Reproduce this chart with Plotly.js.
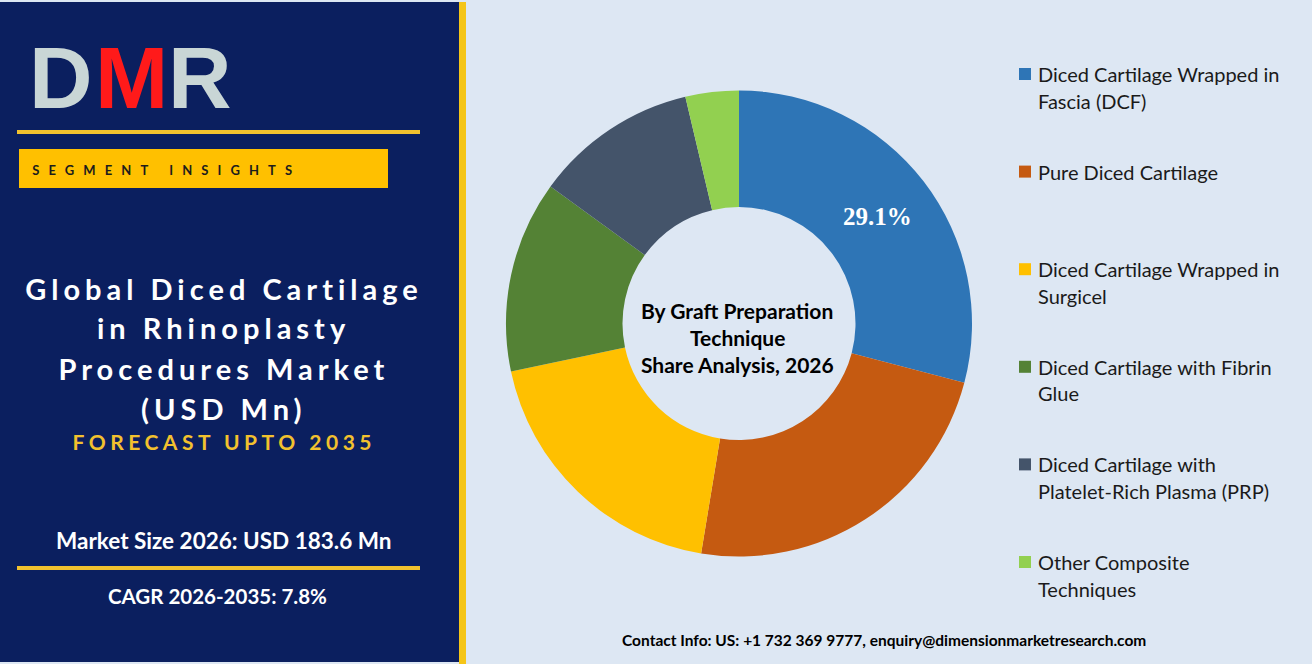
<!DOCTYPE html>
<html>
<head>
<meta charset="utf-8">
<script src="https://cdn.plot.ly/plotly-3.0.1.min.js"></script>
<style>
html,body{margin:0;padding:0;background:#dde7f3;}
#chart{width:1312px;height:664px;}
</style>
</head>
<body>
<div id="chart"></div>
<script>
// ---------- DATA ----------
const categories = [
  "Diced Cartilage Wrapped in<br>Fascia (DCF)",
  "Pure Diced Cartilage",
  "Diced Cartilage Wrapped in<br>Surgicel",
  "Diced Cartilage with Fibrin<br>Glue",
  "Diced Cartilage with<br>Platelet-Rich Plasma (PRP)",
  "Other Composite<br>Techniques"
];
const shares = [29.1, 23.5, 19.1, 13.3, 11.3, 3.7];
const sliceColors = ["#2E75B6", "#C55A11", "#FFC000", "#548235", "#44546A", "#92D050"];
const shownLabel = [true, false, false, false, false, false];

const logoLetters = ["D", "M", "R"];
const titleLines = ["Global Diced Cartilage", "in Rhinoplasty", "Procedures Market", "(USD Mn)"];
const forecastText = "FORECAST UPTO 2035";
const segmentText = "SEGMENT INSIGHTS";
const marketSizeText = "Market Size 2026: USD 183.6 Mn";
const cagrText = "CAGR 2026-2035: 7.8%";
const centerLines = ["By Graft Preparation", "Technique", "Share Analysis, 2026"];
const contactText = "Contact Info: US: +1 732 369 9777, enquiry@dimensionmarketresearch.com";

// ---------- HELPERS ----------
const W = 1312, H = 664;
const px = x => x / W;
const py = y => 1 - y / H;
const NAVY = "#0b1f5f";
const GOLD = "#F2C12E";
const FONT = "Lato, 'Open Sans', sans-serif";

const annotations = [];
const spacing = [];
function ann(o, ls) {
  annotations.push(Object.assign({xref: "paper", yref: "paper", showarrow: false}, o));
  spacing.push(ls || 0);
}

// Logo
const logoX = [61, 131, 200];
const logoColors = ["#c9d6d6", "#ff1a1a", "#c9d6d6"];
logoLetters.forEach((l, i) => {
  ann({x: px(logoX[i]), y: py(77), text: "<b>" + l + "</b>", font: {family: "Liberation Sans, Arial", size: 88, color: logoColors[i]}, xanchor: "center", yanchor: "middle"});
});

// Segment insights (centered on its span; letter spacing applied after render)
ann({x: px(166), y: py(170), text: "<b>" + segmentText + "</b>", font: {family: FONT, size: 13, color: "#1c1c1c"}, xanchor: "center", yanchor: "middle"}, 9.1);

// Title lines
const titleY = [288, 328, 368, 408];
titleLines.forEach((t, i) => {
  ann({x: px(224), y: py(titleY[i]), text: "<b>" + t + "</b>", font: {family: FONT, size: 29, color: "#ffffff"}, xanchor: "center", yanchor: "middle"}, 5);
});
ann({x: px(224), y: py(441), text: "<b>" + forecastText + "</b>", font: {family: FONT, size: 21, color: GOLD}, xanchor: "center", yanchor: "middle"}, 4.5);

ann({x: px(223), y: py(540), text: "<b>" + marketSizeText + "</b>", font: {family: FONT, size: 22.5, color: "#ffffff"}, xanchor: "center", yanchor: "middle"});
ann({x: px(217), y: py(596), text: "<b>" + cagrText + "</b>", font: {family: FONT, size: 20.5, color: "#ffffff"}, xanchor: "center", yanchor: "middle"});

// Center text of donut
const centerY = [310, 337, 364];
centerLines.forEach((t, i) => {
  ann({x: px(737), y: py(centerY[i]), text: "<b>" + t + "</b>", font: {family: FONT, size: 21, color: "#000000"}, xanchor: "center", yanchor: "middle"});
});

// Contact
ann({x: px(884), y: py(640), text: "<b>" + contactText + "</b>", font: {family: FONT, size: 15.5, color: "#000000"}, xanchor: "center", yanchor: "middle"});

// Custom legend built from categories/colors
const shapes = [];
const legendTop = 74, legendStep = 97.6, lineGap = 26.5;
categories.forEach((c, i) => {
  const yc = legendTop + i * legendStep;
  shapes.push({type: "rect", xref: "paper", yref: "paper", x0: px(1019), x1: px(1031), y0: py(yc + 6), y1: py(yc - 6), fillcolor: sliceColors[i], line: {width: 0}});
  c.split("<br>").forEach((line, j) => {
    ann({x: px(1036), y: py(yc + j * lineGap), text: line, font: {family: FONT, size: 20, color: "#1a1a1a"}, xanchor: "left", yanchor: "middle"});
  });
});

// Left panel and decorations
shapes.unshift(
  {type: "rect", xref: "paper", yref: "paper", x0: 0, x1: px(459), y0: py(662), y1: py(2), fillcolor: NAVY, line: {width: 0}, layer: "below"},
  {type: "rect", xref: "paper", yref: "paper", x0: px(459), x1: px(466), y0: 0, y1: py(2), fillcolor: "#F5C518", line: {width: 0}, layer: "below"},
  {type: "rect", xref: "paper", yref: "paper", x0: px(17), x1: px(420), y0: py(134), y1: py(130), fillcolor: GOLD, line: {width: 0}, layer: "below"},
  {type: "rect", xref: "paper", yref: "paper", x0: px(19), x1: px(388), y0: py(188), y1: py(149), fillcolor: "#FFC000", line: {width: 0}, layer: "below"},
  {type: "rect", xref: "paper", yref: "paper", x0: px(17), x1: px(420), y0: py(570), y1: py(566), fillcolor: GOLD, line: {width: 0}, layer: "below"}
);

// ---------- TRACE ----------
const cx = 739, cy = 323.5, R = 233;
const trace = {
  type: "pie",
  labels: categories,
  values: shares,
  hole: 0.5,
  sort: false,
  direction: "clockwise",
  rotation: 0,
  marker: {colors: sliceColors, line: {width: 0}},
  texttemplate: shownLabel.map(s => s ? "<b>%{percent:.1%}</b>" : ""),
  textposition: "inside",
  insidetextorientation: "horizontal",
  insidetextfont: {family: "Liberation Serif, 'Times New Roman', serif", size: 25, color: "#ffffff"},
  hoverinfo: "label+percent",
  showlegend: false,
  domain: {x: [px(cx - R), px(cx + R)], y: [py(cy + R), py(cy - R)]}
};

const layout = {
  width: W, height: H,
  margin: {l: 0, r: 0, t: 0, b: 0},
  paper_bgcolor: "#dde7f3",
  plot_bgcolor: "#dde7f3",
  showlegend: false,
  shapes: shapes,
  annotations: annotations
};

Plotly.newPlot("chart", [trace], layout, {displayModeBar: false, staticPlot: true}).then(() => {
  const nodes = document.querySelectorAll("#chart .annotation");
  nodes.forEach((n, i) => {
    if (spacing[i]) {
      const t = n.querySelector("text.annotation-text");
      if (t) t.style.letterSpacing = spacing[i] + "px";
    }
  });
});
</script>
</body>
</html>
